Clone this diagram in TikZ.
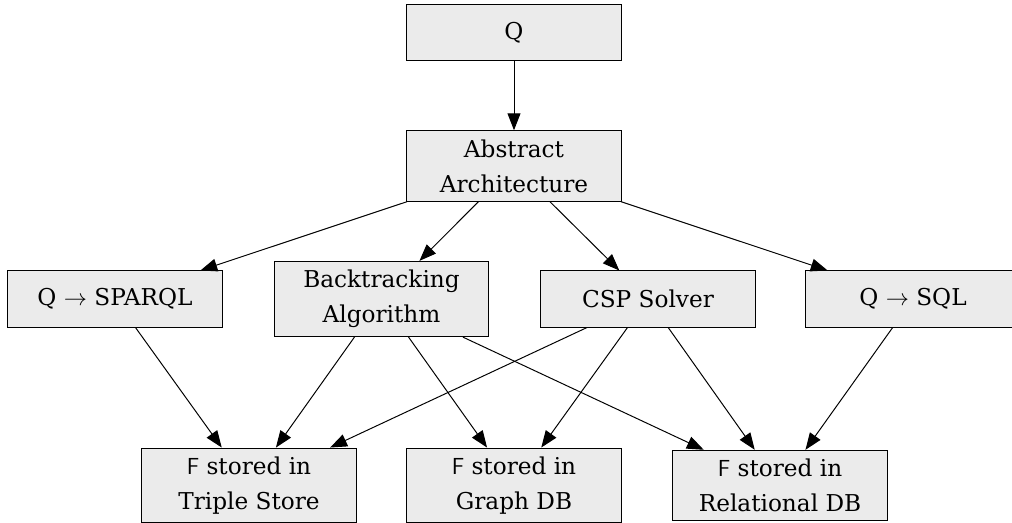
\RequirePackage{fix-cm}
\documentclass[tikz,border=0pt]{standalone}
\usepackage{amsmath}
\usepackage{fontspec}
\setmainfont{DejaVu Serif}
\usepackage{xcolor}
\usepackage{tikz}
\usetikzlibrary{arrows.meta}
\definecolor{boxgray}{HTML}{EBEBEB}
\newcommand{\fset}{\textsf{F}}

\begin{document}
\begin{tikzpicture}[x=0.025cm, y=-0.025cm, line width=0.7pt, >={Triangle[length=0.42cm,width=0.32cm]},
	every node/.style={rectangle,draw,fill=boxgray,align=center,minimum width=5.35cm,minimum height=1.4cm,inner ysep=0.22cm,font=\fontsize{16.5}{24.8}\selectfont}]
	\useasboundingbox (0,0) rectangle (1012,523);
	% top
	\node (q) at (514,32.5) {Q};
	\node (abs) at (514,166) {Abstract\\Architecture};
	% middle
	\node (sparql) at (115,299) {Q $\rightarrow$ SPARQL};
	\node (bt) at (381.5,299) {Backtracking\\Algorithm};
	\node (csp) at (648,299) {CSP Solver};
	\node (sql) at (913,299) {Q $\rightarrow$ SQL};
	% bottom
	\node (triple) at (249,485.5) {\fset{} stored in\\Triple Store};
	\node (graph) at (514,485.5) {\fset{} stored in\\Graph DB};
	\node (rel) at (780,485.5) {\fset{} stored in\\Relational DB};
	% edges
	\draw[->] (q) -- (abs);
	\foreach \t in {sparql,bt,csp,sql}
		\draw[->] (abs) -- (\t);
	\draw[->] (sparql) -- (triple);
	\foreach \t in {triple,graph,rel} {
		\draw[->] (bt) -- (\t);
		\draw[->] (csp) -- (\t);
	}
	\draw[->] (sql) -- (rel);
\end{tikzpicture}
\end{document}
